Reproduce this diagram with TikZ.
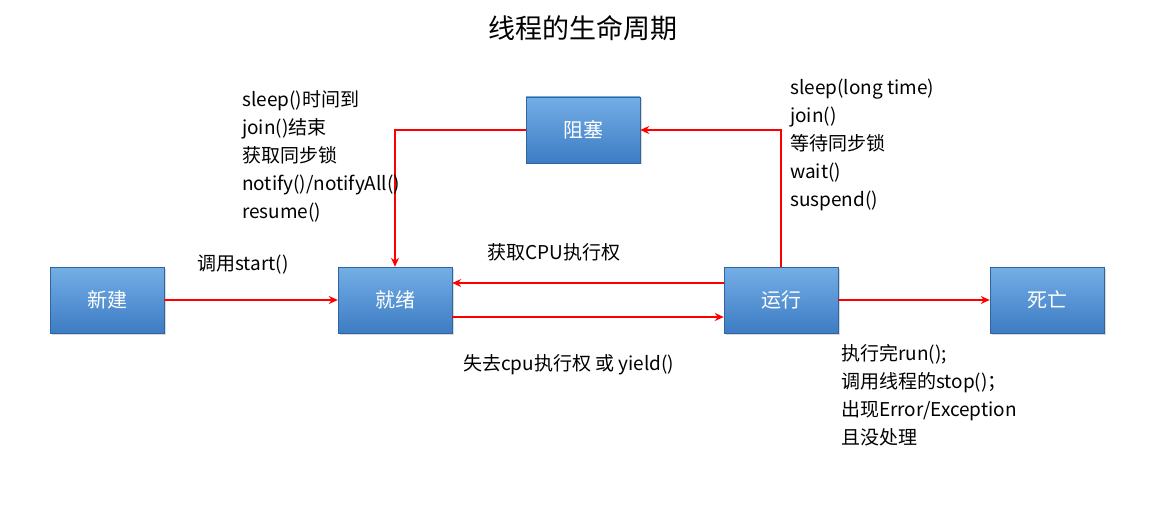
\documentclass[tikz,border=0pt]{standalone}
\usepackage{fontspec}
\setmainfont{Noto Sans CJK SC}
\usetikzlibrary{arrows.meta,shadows}
\definecolor{btop}{HTML}{74AEE6}
\definecolor{bbot}{HTML}{3D7CC4}
\begin{document}
\begin{tikzpicture}[x=1pt,y=-1pt,
  box/.style={draw=bbot!80!black,line width=0.4pt,top color=btop,bottom color=bbot,minimum width=114pt,minimum height=66pt,text=white,font=\fontsize{20}{22}\selectfont,drop shadow={shadow xshift=1.5pt,shadow yshift=-1.5pt,opacity=0.3}},
  arr/.style={draw=red,line width=1.8pt,-{Stealth[length=9pt,width=8pt]}},
  lbl/.style={font=\fontsize{19}{28}\selectfont,align=left,inner sep=0pt}]
\useasboundingbox (0,0) rectangle (1155,529);
\node[font=\fontsize{27}{30}\selectfont] (title) at (583,28) {线程的生命周期};
\node[box] (new) at (107,300) {新建};
\node[box] (ready) at (395,300) {就绪};
\node[box] (run) at (781,300) {运行};
\node[box] (dead) at (1047,300) {死亡};
\node[box] (block) at (583,130) {阻塞};
\draw[arr] (new.east) -- (ready.west);
\draw[arr] ([yshift=-17pt]ready.east) -- ([yshift=-17pt]run.west);
\draw[arr] ([yshift=17pt]run.west) -- ([yshift=17pt]ready.east);
\draw[arr] (run.east) -- (dead.west);
\draw[arr] (run.north) -- (781,130) -- (block.east);
\draw[arr] (block.west) -- (395,130) -- (ready.north);
\node[lbl,anchor=north west] (l1) at (242,90) {sleep()时间到\\join()结束\\获取同步锁\\notify()/notifyAll()\\resume()};
\node[lbl,anchor=north west] (l2) at (790,79) {sleep(long time)\\join()\\等待同步锁\\wait()\\suspend()};
\node[lbl,anchor=west] (l3) at (197,265) {调用start()};
\node[lbl,anchor=west] (l4) at (487,252) {获取CPU执行权};
\node[lbl,anchor=west] (l5) at (463,365) {失去cpu执行权 或 yield()};
\node[lbl,anchor=north west] (l6) at (841,344) {执行完run();\\调用线程的stop()；\\出现Error/Exception\\且没处理};
\end{tikzpicture}
\end{document}
